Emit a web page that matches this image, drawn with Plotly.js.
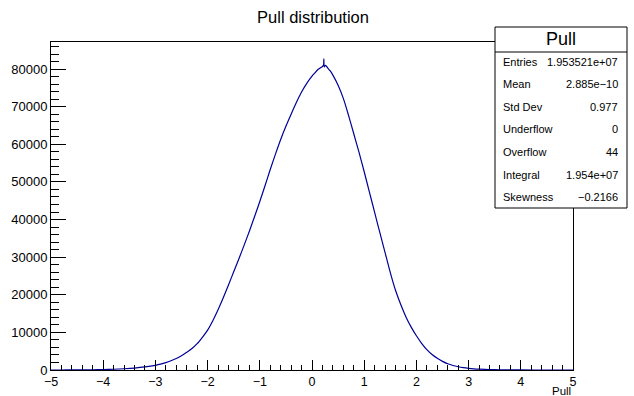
<!DOCTYPE html>
<html>
<head>
<meta charset="utf-8">
<script src="https://cdn.plot.ly/plotly-3.0.1.min.js"></script>
<style>html,body{margin:0;padding:0;background:#fff;}#plot{width:634px;height:396px;}</style>
</head>
<body>
<div id="plot"></div>
<script>
// Histogram curve (bin centre -> entries)
const pullX = [-5.0,-4.8,-4.6,-4.4,-4.2,-4.0,-3.8,-3.6,-3.4,-3.2,-3.0,-2.9,-2.8,-2.7,-2.6,-2.5,-2.4,-2.3,-2.2,-2.1,-2.0,-1.9,-1.8,-1.7,-1.6,-1.5,-1.4,-1.3,-1.2,-1.1,-1.0,-0.9,-0.8,-0.7,-0.6,-0.5,-0.4,-0.3,-0.2,-0.1,0.0,0.05,0.1,0.15,0.2,0.22,0.227,0.235,0.26,0.3,0.35,0.4,0.5,0.6,0.7,0.8,0.9,1.0,1.1,1.2,1.3,1.4,1.5,1.6,1.7,1.8,1.9,2.0,2.1,2.2,2.3,2.4,2.5,2.6,2.7,2.8,2.9,3.0,3.1,3.2,3.4,3.6,3.8,4.0,4.5,5.0];
const pullCounts = [0,5,15,35,70,120,200,330,520,820,1250,1550,1950,2450,3050,3800,4700,5700,7000,8700,10600,13100,16000,19200,22600,26100,29600,33200,36900,40800,44800,49000,53300,57400,61300,64800,68000,71100,73900,76200,78100,78900,79700,80200,80700,81000,82700,80600,81000,80300,79500,78400,75700,72200,67700,62800,57900,52700,47300,41900,36500,31200,25900,21200,17400,14100,11400,9100,7100,5400,4100,3100,2300,1650,1200,870,630,450,320,230,110,50,22,10,2,0];

// Stats box contents
const statTitle = "Pull";
const statLabels = ["Entries","Mean","Std Dev","Underflow","Overflow","Integral","Skewness"];
const statValues = ["1.953521e+07","2.885e\u221210","0.977","0","44","1.954e+07","\u22120.2166"];

const chartTitle = "Pull distribution";
const xTitle = "Pull";

const W = 634, H = 396;
const L = 51, R = 573, T = 42, B = 370;
const px2x = p => (p - L) / (R - L);
const px2y = p => (B - p) / (B - T);
const FONT = "Liberation Sans, Arial, Helvetica, sans-serif";

const shapes = [
  {type:'rect', xref:'paper', yref:'paper', x0:px2x(495), x1:px2x(627), y0:px2y(208), y1:px2y(27),
   line:{color:'#000', width:1}, fillcolor:'#fff', layer:'above'},
  {type:'line', xref:'paper', yref:'paper', x0:px2x(495), x1:px2x(627), y0:px2y(52), y1:px2y(52),
   line:{color:'#000', width:1}, layer:'above'}
];

const annotations = [];
annotations.push({xref:'paper', yref:'paper', x:px2x(561), y:px2y(39), text:statTitle, showarrow:false,
  xanchor:'center', yanchor:'middle', font:{family:FONT, size:18, color:'#000'}});
const rowY0 = 61.5, rowStep = 22.6;
statLabels.forEach((lab, i) => {
  const py = rowY0 + i * rowStep;
  annotations.push({xref:'paper', yref:'paper', x:px2x(501), y:px2y(py), text:lab, showarrow:false,
    xanchor:'left', yanchor:'middle', font:{family:FONT, size:11, color:'#000'}});
  annotations.push({xref:'paper', yref:'paper', x:px2x(620), y:px2y(py), text:statValues[i], showarrow:false,
    xanchor:'right', yanchor:'middle', font:{family:FONT, size:11, color:'#000'}});
});
annotations.push({xref:'paper', yref:'paper', x:1, y:px2y(390.5), text:xTitle, showarrow:false,
  xanchor:'right', yanchor:'middle', font:{family:FONT, size:11.5, color:'#000'}});

const trace = {
  x: pullX, y: pullCounts, type:'scatter', mode:'lines',
  line:{color:'#000099', width:1.2, shape:'spline', smoothing:0.8}, hoverinfo:'skip'
};

const layout = {
  width:W, height:H,
  margin:{l:L, r:W-R, t:T, b:H-B, pad:0},
  paper_bgcolor:'#fff', plot_bgcolor:'#fff',
  showlegend:false,
  font:{family:FONT, color:'#000'},
  title:{text:chartTitle, x:313/W, xref:'container', xanchor:'center',
         y:1-17/H, yref:'container', yanchor:'middle', font:{family:FONT, size:16.5, color:'#000'}},
  xaxis:{range:[-5,5], showgrid:false, zeroline:false, showline:true, mirror:true, linecolor:'#000', linewidth:1,
         ticks:'inside', ticklen:10, tickwidth:1, tickcolor:'#000', dtick:1, tick0:0,
         minor:{ticks:'inside', ticklen:5, dtick:0.2, tickcolor:'#000', tickwidth:1, showgrid:false},
         tickfont:{family:FONT, size:12.5, color:'#000'}, fixedrange:true},
  yaxis:{range:[0,87200], showgrid:false, zeroline:false, showline:true, mirror:true, linecolor:'#000', linewidth:1,
         ticks:'inside', ticklen:15, tickwidth:1, tickcolor:'#000', dtick:10000, tick0:0,
         minor:{ticks:'inside', ticklen:8, dtick:2000, tickcolor:'#000', tickwidth:1, showgrid:false},
         tickformat:'d', tickfont:{family:FONT, size:13, color:'#000'}, fixedrange:true},
  shapes: shapes,
  annotations: annotations
};

Plotly.newPlot('plot', [trace], layout, {staticPlot:true, displayModeBar:false});
</script>
</body>
</html>
